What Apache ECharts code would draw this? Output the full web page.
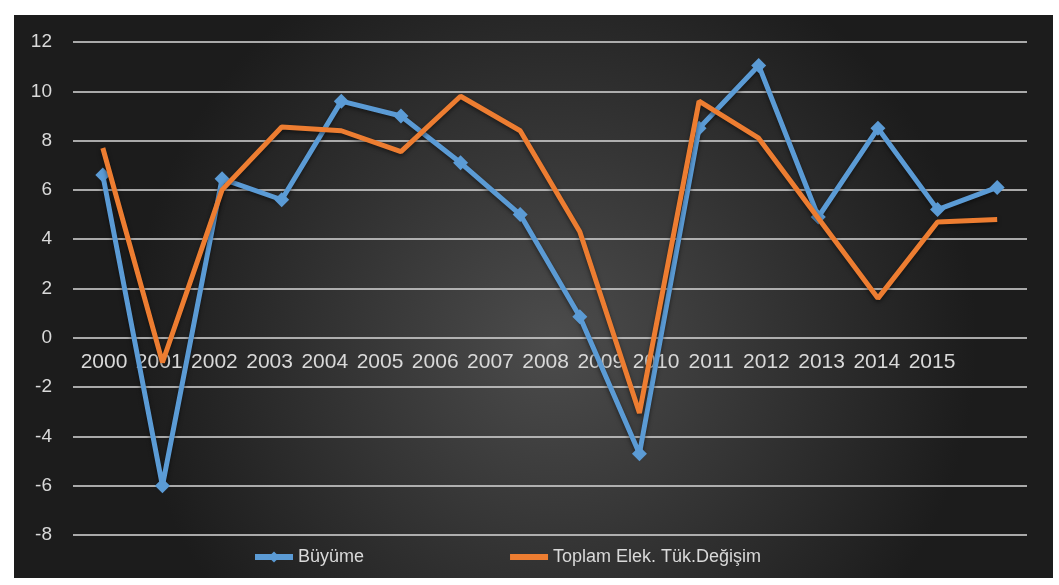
<!DOCTYPE html>
<html>
<head>
<meta charset="utf-8">
<script src="https://cdn.jsdelivr.net/npm/echarts@6/dist/echarts.min.js"></script>
<style>
html,body{margin:0;padding:0;background:#fff;width:1059px;height:585px;overflow:hidden;}
#c{position:absolute;left:14px;top:15px;width:1039px;height:563px;}
</style>
</head>
<body>
<div id="c"></div>
<script>
var years = ['2000','2001','2002','2003','2004','2005','2006','2007','2008','2009','2010','2011','2012','2013','2014','2015'];
var buyume = [6.6, -6.0, 6.45, 5.6, 9.6, 9.0, 7.1, 5.0, 0.85, -4.7, 8.5, 11.05, 4.9, 8.5, 5.2, 6.1];
var toplam = [7.7, -1.0, 6.0, 8.55, 8.4, 7.55, 9.8, 8.4, 4.3, -3.05, 9.6, 8.1, 4.85, 1.6, 4.7, 4.8];
var yTicks = {min: -8, max: 12, interval: 2};

var txt = '#d9d9d9';
var chart = echarts.init(document.getElementById('c'), null, {renderer: 'canvas'});
chart.setOption({
  animation: false,
  backgroundColor: {
    type: 'radial', x: 0.52, y: 0.58, r: 0.75,
    colorStops: [{offset: 0, color: '#4c4c4c'}, {offset: 1, color: '#1c1c1c'}]
  },
  textStyle: {fontFamily: 'Liberation Sans, Arial, sans-serif'},
  grid: [
    {left: 59, right: 26, top: 27, bottom: 43},
    {left: 62.4, right: 93.4, top: 27, bottom: 241}
  ],
  xAxis: [
    {type: 'category', gridIndex: 0, data: years, boundaryGap: true,
     axisLine: {show: false}, axisTick: {show: false}, axisLabel: {show: false}},
    {type: 'category', gridIndex: 1, data: years, boundaryGap: true, position: 'bottom',
     axisLine: {show: false}, axisTick: {show: false},
     axisLabel: {color: txt, fontSize: 21, margin: 15, interval: 0}}
  ],
  yAxis: [
    {type: 'value', gridIndex: 0, min: yTicks.min, max: yTicks.max, interval: yTicks.interval,
     axisLine: {show: false}, axisTick: {show: false},
     axisLabel: {color: txt, fontSize: 19, margin: 21},
     splitLine: {lineStyle: {color: '#d9d9d9', width: 1.5}}},
    {type: 'value', gridIndex: 1, min: 0, max: yTicks.max, show: false}
  ],
  legend: {
    left: 238, top: 533, padding: 0, itemWidth: 38, itemHeight: 14, itemGap: 143,
    lineStyle: {width: 6},
    textStyle: {color: txt, fontSize: 18, fontFamily: 'Liberation Sans, Arial, sans-serif'},
    data: [
      {name: 'Büyüme'},
      {name: 'Toplam Elek. Tük.Değişim', itemStyle: {opacity: 0}}
    ]
  },
  series: [
    {name: 'Büyüme', type: 'line', xAxisIndex: 0, yAxisIndex: 0, data: buyume,
     symbol: 'diamond', symbolSize: 15,
     lineStyle: {color: '#5b9bd5', width: 5, shadowBlur: 4, shadowColor: 'rgba(0,0,0,0.5)', shadowOffsetY: 2},
     itemStyle: {color: '#5b9bd5', borderWidth: 0}, z: 3},
    {name: 'Toplam Elek. Tük.Değişim', type: 'line', xAxisIndex: 0, yAxisIndex: 0, data: toplam,
     symbol: 'none', showSymbol: false,
     lineStyle: {color: '#ed7d31', width: 5, shadowBlur: 4, shadowColor: 'rgba(0,0,0,0.5)', shadowOffsetY: 2},
     itemStyle: {color: '#ed7d31'}, z: 4}
  ]
});
</script>
</body>
</html>
